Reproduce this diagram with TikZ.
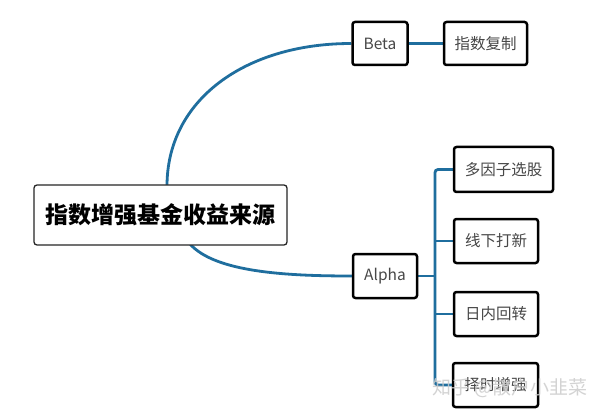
\documentclass[tikz,border=0pt]{standalone}
\usepackage{fontspec}
\setmainfont{Noto Sans CJK SC}
\newfontfamily\cjk{Noto Sans CJK SC}
\pgfdeclarelayer{bg}
\pgfsetlayers{bg,main}
\definecolor{linkblue}{HTML}{1F6E9E}
\begin{document}
\begin{tikzpicture}[x=1pt,y=-1pt,
  leaf/.style={draw=black,line width=2.5pt,rounded corners=2.5pt,fill=white,inner sep=0pt,font=\fontsize{15.5}{18}\selectfont\cjk,text=black!72},
  rootbox/.style={draw=black!85,line width=1.3pt,rounded corners=3pt,fill=white,inner sep=0pt,font=\fontsize{23}{27}\selectfont\cjk\bfseries},
  link/.style={draw=linkblue,line width=2.8pt},
  wmark/.style={font=\fontsize{19}{22}\selectfont\cjk,text=gray!40,opacity=0.85}]
\useasboundingbox (0,0) rectangle (600,417);
\node[rootbox,minimum width=253pt,minimum height=60pt] (root) at (160.5,215) {指数增强基金收益来源};
\node[leaf,minimum width=55pt,minimum height=43pt] (beta) at (380,43.5) {Beta};
\node[leaf,minimum width=83pt,minimum height=43pt] (copy) at (485.5,43.5) {指数复制};
\node[leaf,minimum width=64pt,minimum height=44pt] (alpha) at (385,276) {Alpha};
\node[leaf,minimum width=99pt,minimum height=45pt] (c1) at (503.5,169.5) {多因子选股};
\node[leaf,minimum width=84pt,minimum height=44pt] (c2) at (496,241) {线下打新};
\node[leaf,minimum width=84pt,minimum height=44pt] (c3) at (496,314) {日内回转};
\node[leaf,minimum width=85pt,minimum height=44pt] (c4) at (495.5,385) {择时增强};
\coordinate (bt) at (167,186);
\coordinate (bb) at (190,244);
\coordinate (b1) at (435,169.5);
\coordinate (b4) at (435,385);
\begin{pgfonlayer}{bg}
\fill[white] (0,0) rectangle (600,417);
\path[link] (bt) .. controls (167,100) and (245,43.5) .. (beta.west);
\path[link] (bb) .. controls (215,272) and (285,276) .. (alpha.west);
\path[link] (beta.east) -- (copy.west);
\path[link] (alpha.east) -- (b1 |- alpha.east);
\path[link,rounded corners=3pt] (c1.west) -- (b1) -- (b4) -- (c4.west);
\path[link] (b1 |- c2.west) -- (c2.west);
\path[link] (b1 |- c3.west) -- (c3.west);
\end{pgfonlayer}
\node[wmark] (wm) at (510,388) {知乎 @散户小韭菜};
\end{tikzpicture}
\end{document}
